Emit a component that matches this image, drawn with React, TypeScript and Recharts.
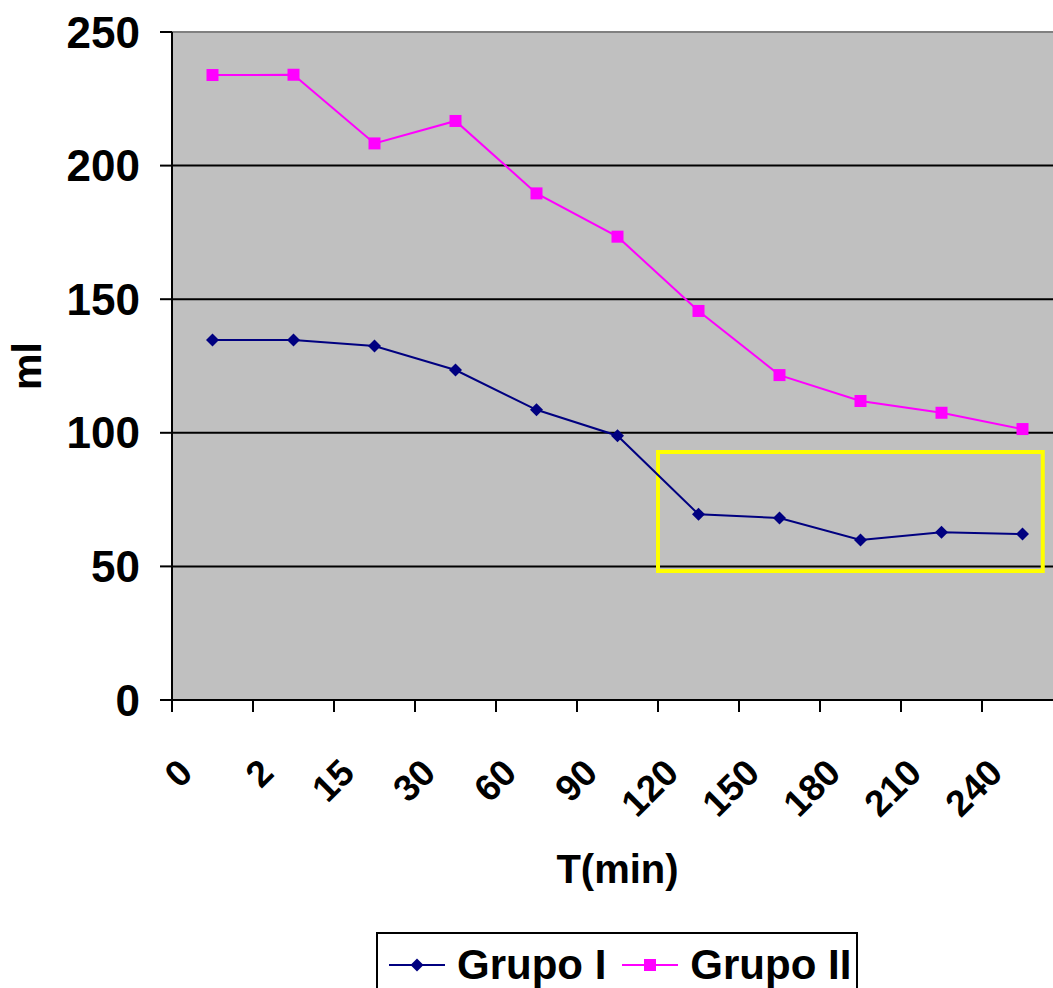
import React from 'react';
import { LineChart, Line, XAxis, YAxis, CartesianGrid, Legend, ReferenceArea, ReferenceLine } from 'recharts';

// T(min) categories and the two series (ml)
const times = ['0', '2', '15', '30', '60', '90', '120', '150', '180', '210', '240'];
const grupoI = [134.7, 134.7, 132.5, 123.5, 108.6, 98.9, 69.5, 68.1, 59.9, 62.8, 62.1];
const grupoII = [233.9, 234, 208.3, 216.7, 189.6, 173.4, 145.6, 121.6, 111.9, 107.5, 101.4];
const yTicks = [0, 50, 100, 150, 200, 250];

// highlighted region: x in category index units (point centres), y in ml
const boxX = [5.5, 10.25];
const boxY = [48.3, 92.8];

const W = 1070;
const H = 988;
const MARGIN = { top: 32, right: 7, bottom: 0, left: 0 };
const YAXIS_W = 172;
const HALF = (W - MARGIN.left - MARGIN.right - YAXIS_W) / times.length / 2;

const FONT = '"Liberation Sans", Arial, sans-serif';
const NAVY = '#000080';
const MAGENTA = '#FF00FF';

const data = times.map((t, i) => ({ t, i, g1: grupoI[i], g2: grupoII[i] }));

const Diamond = (p: any) => {
  const { cx, cy, index } = p;
  if (cx == null || cy == null) return <g key={`d${index}`} />;
  const r = 6.5;
  return <path key={`d${index}`} d={`M${cx},${cy - r}L${cx + r},${cy}L${cx},${cy + r}L${cx - r},${cy}Z`} fill={NAVY} />;
};

const Square = (p: any) => {
  const { cx, cy, index } = p;
  if (cx == null || cy == null) return <g key={`s${index}`} />;
  return <rect key={`s${index}`} x={cx - 6} y={cy - 6} width={12} height={12} fill={MAGENTA} />;
};

const XTick = (props: any) => {
  const { x, y, payload } = props;
  const lx = x - 18;
  const ly = y + 75;
  return (
    <g>
      <line x1={x - HALF} x2={x - HALF} y1={y} y2={y + 12} stroke="#000" strokeWidth={2} />
      <text x={lx} y={ly} textAnchor="end" transform={`rotate(-45 ${lx} ${ly})`}
        fontSize={37} fontWeight="bold" fontFamily={FONT} fill="#000">
        {payload.value}
      </text>
    </g>
  );
};

const LegendBox = (props: any) => {
  const { payload = [] } = props;
  return (
    <div style={{
      boxSizing: 'border-box', width: '100%', height: '100%', border: '2px solid #000', background: '#fff',
      display: 'flex', alignItems: 'center', paddingLeft: 11, fontFamily: FONT, fontWeight: 'bold', fontSize: 42, color: '#000',
    }}>
      {payload.map((e: any, i: number) => (
        <div key={i} style={{ display: 'flex', alignItems: 'center', marginLeft: i ? 16 : 0 }}>
          <svg width={56} height={16}>
            <line x1={0} x2={56} y1={8} y2={8} stroke={e.color} strokeWidth={2} />
            {e.dataKey === 'g1'
              ? <path d="M28,1.5L34.5,8L28,14.5L21.5,8Z" fill={e.color} />
              : <rect x={22} y={2} width={12} height={12} fill={e.color} />}
          </svg>
          <span style={{ marginLeft: 12, lineHeight: 1 }}>{e.value}</span>
        </div>
      ))}
    </div>
  );
};

export default function App() {
  return (
    <div style={{ position: 'fixed', left: 0, top: 0, width: 1053, height: 988, overflow: 'hidden', background: '#fff' }}>
      <LineChart width={W} height={H} data={data} margin={MARGIN}>
        <CartesianGrid vertical={false} stroke="#000" strokeWidth={2} fill="#C0C0C0" fillOpacity={1} />
        <ReferenceLine y={250} stroke="#808080" strokeWidth={2} />
        <XAxis
          dataKey="t"
          height={288}
          padding={{ left: HALF, right: HALF }}
          axisLine={{ stroke: '#000', strokeWidth: 2 }}
          tickLine={false}
          tickSize={0}
          tickMargin={0}
          interval={0}
          tick={XTick}
          label={{
            value: 'T(min)', position: 'insideBottom', offset: 105,
            style: { fontSize: 40, fontWeight: 'bold', fontFamily: FONT, fill: '#000' },
          }}
        />
        <XAxis
          xAxisId="box"
          dataKey="i"
          type="number"
          domain={[0, times.length - 1]}
          padding={{ left: HALF, right: HALF }}
          allowDataOverflow
          hide
        />
        <YAxis
          width={YAXIS_W}
          domain={[0, 250]}
          ticks={yTicks}
          interval={0}
          axisLine={{ stroke: '#000', strokeWidth: 2 }}
          tickLine={{ stroke: '#000', strokeWidth: 2 }}
          tickSize={12}
          tickMargin={20}
          tick={{ fill: '#000', fontSize: 44, fontWeight: 'bold', fontFamily: FONT }}
          label={{
            value: 'ml', angle: -90, position: 'insideLeft', offset: 26,
            style: { textAnchor: 'middle', fontSize: 41, fontWeight: 'bold', fontFamily: FONT, fill: '#000' },
          }}
        />
        <Legend
          layout="vertical"
          align="center"
          verticalAlign="middle"
          wrapperStyle={{ left: 376, top: 932, width: 482, height: 66 }}
          content={LegendBox}
        />
        <Line type="linear" dataKey="g1" name="Grupo I" stroke={NAVY} strokeWidth={2} dot={Diamond} activeDot={false} isAnimationActive={false} />
        <Line type="linear" dataKey="g2" name="Grupo II" stroke={MAGENTA} strokeWidth={2} dot={Square} activeDot={false} isAnimationActive={false} />
        <ReferenceArea
          xAxisId="box"
          x1={boxX[0]}
          x2={boxX[1]}
          y1={boxY[0]}
          y2={boxY[1]}
          fill="none"
          fillOpacity={0}
          stroke="#FFFF00"
          strokeWidth={4}
          ifOverflow="visible"
        />
      </LineChart>
    </div>
  );
}
